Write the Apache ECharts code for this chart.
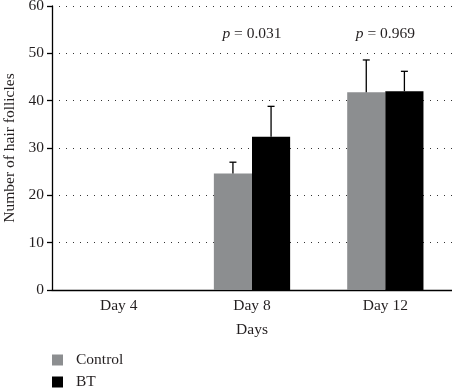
<!DOCTYPE html>
<html>
<head>
<meta charset="utf-8">
<script src="https://cdn.jsdelivr.net/npm/echarts@6/dist/echarts.min.js"></script>
<style>
  html, body { margin: 0; padding: 0; background: #fff; }
  #chart { width: 452px; height: 392px; }
</style>
</head>
<body>
<div id="chart"></div>
<script>
// values
const days = ['Day 4', 'Day 8', 'Day 12']
const controlMean = [0, 24.6, 41.8]
const controlUpper = [null, 27.0, 48.6]
const btMean = [0, 32.4, 42.0]
const btUpper = [null, 38.8, 46.2]
const pLabels = ['', '0.031', '0.969']
const pLabelY = 54
const yTicks = [0, 10, 20, 30, 40, 50, 60]

const serif = '"Liberation Serif", "DejaVu Serif", serif'
const ink = '#231f20'
const FS = 15.5
const BAR_PCT = 0.286

const chart = echarts.init(document.getElementById('chart'))

// error bar drawn up from the bar top, shifted to the bar's centre
function errorBar(side) {
  return function (params, api) {
    const i = params.dataIndex
    const top = api.value(2)
    if (top == null) return
    const band = api.size([1, 0])[0]
    const off = side * band * BAR_PCT / 2
    const p0 = api.coord([i, api.value(1)])
    const p1 = api.coord([i, top])
    const x = p0[0] + off
    const cap = 3.5
    return {
      type: 'group',
      children: [
        { type: 'line', shape: { x1: x, y1: p0[1], x2: x, y2: p1[1] }, style: { stroke: '#000', lineWidth: 1.3 } },
        { type: 'line', shape: { x1: x - cap, y1: p1[1], x2: x + cap, y2: p1[1] }, style: { stroke: '#000', lineWidth: 1.3 } }
      ]
    }
  }
}

chart.setOption({
  animation: false,
  grid: { left: 52, right: 0, top: 6, bottom: 102, outerBoundsMode: 'none', containLabel: false },
  legend: {
    orient: 'vertical',
    left: 52,
    top: 351,
    height: 41,
    padding: 0,
    itemWidth: 11,
    itemHeight: 11,
    itemGap: 4,
    icon: 'rect',
    data: ['Control', 'BT'],
    textStyle: { fontFamily: serif, fontSize: FS, lineHeight: 18, color: ink, padding: [0, 0, 0, 8] }
  },
  xAxis: {
    type: 'category',
    data: days,
    name: 'Days',
    nameLocation: 'middle',
    nameGap: 32,
    nameTextStyle: { fontFamily: serif, fontSize: FS, color: ink },
    axisLine: { lineStyle: { color: '#000', width: 1.3 } },
    axisTick: { show: false },
    axisLabel: { fontFamily: serif, fontSize: FS, color: ink, margin: 8 }
  },
  yAxis: {
    type: 'value',
    min: yTicks[0],
    max: yTicks[yTicks.length - 1],
    interval: 10,
    name: 'Number of hair follicles',
    nameLocation: 'middle',
    nameGap: 34,
    nameTextStyle: { fontFamily: serif, fontSize: FS, color: ink },
    axisLine: { show: true, lineStyle: { color: '#000', width: 1.3 } },
    axisTick: { show: true, length: 5, lineStyle: { color: '#000', width: 1.3 } },
    axisLabel: { fontFamily: serif, fontSize: FS, color: ink, margin: 8 },
    splitLine: { lineStyle: { color: '#333', type: [1, 6], width: 1 } }
  },
  series: [
    {
      name: 'Control',
      type: 'bar',
      data: controlMean,
      barWidth: (BAR_PCT * 100) + '%',
      barGap: '0%',
      itemStyle: { color: '#8c8e90' }
    },
    {
      name: 'BT',
      type: 'bar',
      data: btMean,
      barWidth: (BAR_PCT * 100) + '%',
      barGap: '0%',
      itemStyle: { color: '#000' }
    },
    {
      type: 'custom',
      renderItem: errorBar(-1),
      data: days.map((d, i) => [i, controlMean[i], controlUpper[i]]),
      z: 5
    },
    {
      type: 'custom',
      renderItem: errorBar(1),
      data: days.map((d, i) => [i, btMean[i], btUpper[i]]),
      z: 5
    },
    {
      type: 'custom',
      renderItem: function (params, api) {
        const i = params.dataIndex
        if (!pLabels[i]) return
        const p = api.coord([i, pLabelY])
        return {
          type: 'text',
          x: p[0],
          y: p[1],
          style: {
            text: '{i|p} = ' + pLabels[i],
            align: 'center',
            verticalAlign: 'middle',
            fontFamily: serif,
            fontSize: FS,
            fill: ink,
            rich: { i: { fontStyle: 'italic', fontFamily: serif, fontSize: FS, fill: ink } }
          }
        }
      },
      data: days.map((d, i) => [i, pLabelY])
    }
  ]
})
</script>
</body>
</html>
